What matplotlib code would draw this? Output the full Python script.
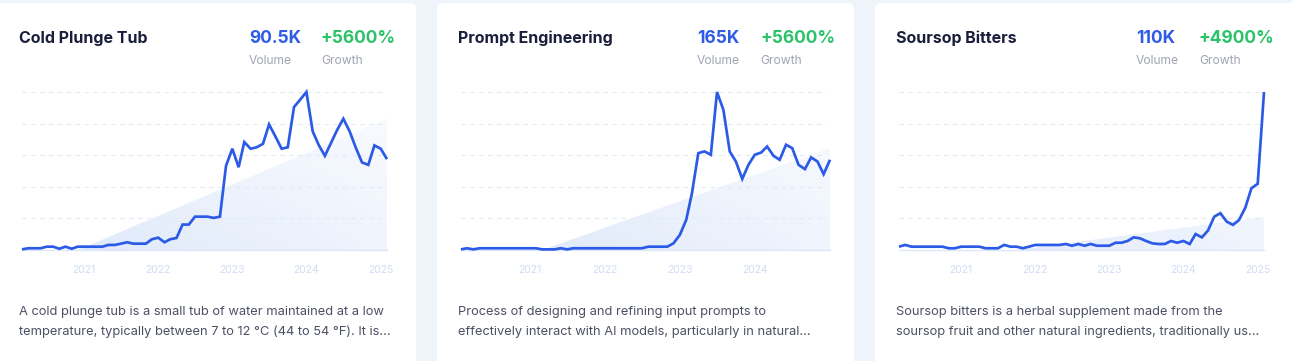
import numpy as np
import pandas as pd
import matplotlib
matplotlib.use('Agg')
import matplotlib.pyplot as plt
import matplotlib.dates as mdates
from matplotlib.patches import FancyBboxPatch, Polygon


# ------------------------------------------------------- #
# Datos (valores relativos al maximo = 100)

titles = ['Cold Plunge Tub', 'Prompt Engineering', 'Soursop Bitters']
volumes = ['90.5K', '165K', '110K']
growths = ['+5600%', '+5600%', '+4900%']
descriptions = [
    ['A cold plunge tub is a small tub of water maintained at a low',
     'temperature, typically between 7 to 12 \u00b0C (44 to 54 \u00b0F). It is...'],
    ['Process of designing and refining input prompts to',
     'effectively interact with AI models, particularly in natural...'],
    ['Soursop bitters is a herbal supplement made from the',
     'soursop fruit and other natural ingredients, traditionally us...'],
]
start_months = ['2020-03-01', '2020-02-01', '2020-03-01']
tick_years = [
    ['2021', '2022', '2023', '2024', '2025'],
    ['2021', '2022', '2023', '2024'],
    ['2021', '2022', '2023', '2024', '2025'],
]

cold_plunge = [
    0.4, 1.1, 1.1, 1.1, 2.1, 2.1, 0.8, 2.1, 0.8, 2.1,
    2.1, 2.1, 2.1, 2.1, 3.2, 3.2, 4.0, 4.9, 4.0, 4.0,
    4.0, 6.8, 7.8, 4.9, 6.8, 7.6, 16.1, 16.1, 21.1, 21.1,
    21.1, 20.3, 21.1, 53.3, 64.1, 52.4, 68.3, 64.1, 65.0, 67.2,
    79.5, 71.9, 64.1, 65.0, 90.5, 95.1, 100.0, 75.1, 66.6, 59.6,
    67.7, 76.1, 83.1, 75.1, 64.5, 55.4, 53.9, 66.2, 64.1, 57.5,
]
prompt_eng = [
    0.4, 1.1, 0.4, 1.1, 1.1, 1.1, 1.1, 1.1, 1.1, 1.1,
    1.1, 1.1, 1.1, 0.4, 0.4, 0.4, 1.1, 0.4, 1.1, 1.1,
    1.1, 1.1, 1.1, 1.1, 1.1, 1.1, 1.1, 1.1, 1.1, 1.1,
    2.1, 2.1, 2.1, 2.1, 4.2, 9.5, 19.0, 35.9, 61.3, 62.4,
    60.3, 100.0, 88.8, 62.4, 56.0, 45.0, 53.9, 60.3, 61.7, 65.5,
    59.6, 57.1, 66.6, 64.5, 53.9, 51.2, 58.6, 56.0, 48.0, 57.1,
]
soursop = [
    2.1, 3.2, 2.1, 2.1, 2.1, 2.1, 2.1, 2.1, 1.1, 1.1,
    2.1, 2.1, 2.1, 2.1, 1.1, 1.1, 1.1, 3.2, 2.1, 2.1,
    1.1, 2.1, 3.2, 3.2, 3.2, 3.2, 3.2, 3.8, 2.7, 3.8,
    2.7, 3.8, 2.7, 2.7, 2.7, 4.6, 4.6, 5.7, 8.0, 7.4,
    5.7, 4.2, 3.8, 3.8, 5.7, 4.6, 5.7, 3.8, 10.1, 8.0,
    12.3, 21.1, 23.3, 18.0, 15.9, 19.0, 26.8, 39.1, 41.9, 100.0,
]
series = [cold_plunge, prompt_eng, soursop]

# Tendencia: mes en que sale de cero y valor al final
trend_start = ['2020-12-01', '2021-03-01', '2021-10-01']
trend_end_value = [83.0, 64.5, 21.0]


# ------------------------------------------------------- #
# Figura

W, H = 1292, 361
fig = plt.figure(figsize=(W / 100, H / 100), dpi=100)
fig.patch.set_facecolor('#eff4fb')
plt.rcParams['font.family'] = ['Inter', 'DejaVu Sans']

bg = fig.add_axes([0, 0, 1, 1])
bg.set_xlim(0, W)
bg.set_ylim(H, 0)
bg.axis('off')

card_x = [-10, 437, 875]
card_w = [426, 417, 430]
plot_x = [22, 461, 899]
plot_w = [365, 369, 365]
text_x = [19, 458, 896]
vol_x = [249, 697, 1136]
gro_x = [321, 760, 1199]

line_color = '#2b5ae6'
grid_color = '#e2e9f7'
tick_color = '#d1dbf3'

# gradiente para el area de tendencia
gy, gx = np.mgrid[0:1:200j, 0:1:400j]
grad = np.zeros((200, 400, 4))
grad[..., 0] = 0.83
grad[..., 1] = 0.885
grad[..., 2] = 0.98
grad[..., 3] = 0.8 * (1 - 0.55 * gx) * (0.35 + 0.65 * gy)


def px_axes(x0, y_top, w, h):
    return fig.add_axes([x0 / W, 1 - (y_top + h) / H, w / W, h / H])


for k in range(3):
    #
    card = FancyBboxPatch(
        (card_x[k], 3), card_w[k], 400,
        boxstyle='round,pad=0,rounding_size=6',
        facecolor='white', edgecolor='none')
    bg.add_patch(card)

    #
    bg.text(text_x[k], 43, titles[k], fontsize=11.5, fontweight='bold',
            color='#1b1e3b', va='baseline', ha='left')
    bg.text(vol_x[k], 43, volumes[k], fontsize=12.5, fontweight='bold',
            color='#2f5be7', va='baseline', ha='left')
    bg.text(gro_x[k], 43, growths[k], fontsize=12.5, fontweight='bold',
            color='#2cc26a', va='baseline', ha='left')
    bg.text(vol_x[k], 64, 'Volume', fontsize=8.7,
            color='#a1a5b3', va='baseline', ha='left')
    bg.text(gro_x[k], 64, 'Growth', fontsize=8.7,
            color='#a1a5b3', va='baseline', ha='left')
    for j, line in enumerate(descriptions[k]):
        bg.text(text_x[k], 315 + 20 * j, line, fontsize=9.25,
                color='#4c5064', va='baseline', ha='left')

    #
    dates = pd.date_range(start_months[k], periods=len(series[k]), freq='MS')
    ax = px_axes(plot_x[k], 92, plot_w[k], 158)
    ax.set_xlim(dates[0], dates[-1])
    ax.set_ylim(0, 100)
    ax.patch.set_alpha(0)
    for s in ax.spines.values():
        s.set_visible(False)

    # area de tendencia con gradiente
    t0 = mdates.date2num(pd.Timestamp(trend_start[k]))
    t1 = mdates.date2num(dates[-1])
    poly = Polygon([[t0, 0], [t1, trend_end_value[k]], [t1, 0]],
                   closed=True, facecolor='none', edgecolor='none',
                   transform=ax.transData)
    ax.add_patch(poly)
    im = ax.imshow(grad, extent=[0, 1, 0, 1], transform=ax.transAxes,
                   aspect='auto', origin='upper', zorder=1)
    im.set_clip_path(poly)

    # lineas de grilla
    for g in [20, 40, 60, 80, 100]:
        ax.plot([dates[0], dates[-1] - pd.Timedelta(days=20)], [g, g],
                color=grid_color, lw=0.8, dashes=(4, 4), zorder=2,
                clip_on=False)
    ax.plot([dates[0], dates[-1]], [0, 0], color='#dde6fb', lw=1.0,
            zorder=2, clip_on=False)

    ax.plot(dates, series[k], color=line_color, lw=1.95, zorder=3,
            clip_on=False, solid_joinstyle='miter', solid_capstyle='butt')

    ax.set_yticks([])
    ax.set_xticks([pd.Timestamp(f'{y}-01-01') for y in tick_years[k]])
    ax.set_xticklabels(tick_years[k])
    ax.tick_params(axis='x', length=0, pad=10.5, labelsize=7.5,
                   labelcolor=tick_color)

plt.savefig('out.png', dpi=100, facecolor=fig.get_facecolor())
